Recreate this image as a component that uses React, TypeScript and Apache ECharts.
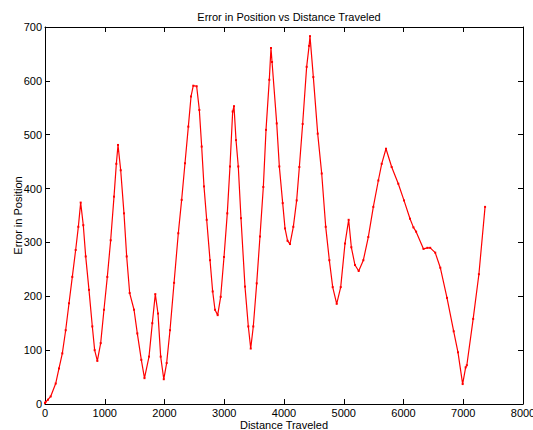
import React, { useEffect, useRef } from "react";
import * as echarts from "echarts";

const chartTitle = "Error in Position vs Distance Traveled";
const xAxisName = "Distance Traveled";
const yAxisName = "Error in Position";

const distance = [
  0, 11, 50, 95, 179, 234, 290, 346, 402, 457, 513, 558, 597, 641, 681, 736, 792, 831, 876,
  932, 987, 1043, 1099, 1155, 1194, 1222, 1267, 1322, 1367, 1417, 1490, 1545, 1612, 1665,
  1741, 1796, 1846, 1891, 1936, 1988, 2036, 2092, 2160, 2231, 2287, 2343, 2399, 2444, 2482,
  2538, 2583, 2622, 2661, 2706, 2762, 2806, 2845, 2890, 2940, 2996, 3051, 3096, 3141, 3163,
  3197, 3235, 3280, 3347, 3403, 3443, 3486, 3543, 3598, 3654, 3699, 3754, 3782, 3800, 3878,
  3922, 3978, 4017, 4060, 4100, 4156, 4212, 4257, 4312, 4379, 4420, 4435, 4491, 4564, 4631,
  4698, 4759, 4815, 4882, 4949, 5021, 5082, 5127, 5188, 5250, 5328, 5411, 5495, 5579, 5635,
  5707, 5802, 5913, 6008, 6109, 6166, 6211, 6335, 6400, 6447, 6531, 6616, 6728, 6840, 6912,
  6990, 7040, 7060, 7166, 7262, 7365,
];

const positionError = [
  2, 4, 8, 14, 38, 66, 94, 137, 187, 236, 286, 329, 374, 332, 274, 212, 144, 100, 80,
  113, 175, 236, 304, 385, 446, 481, 434, 354, 274, 206, 175, 131, 82, 48,
  88, 150, 204, 168, 88, 46, 76, 137, 225, 317, 379, 447, 515, 571, 591,
  590, 546, 478, 404, 342, 267, 209, 175, 165, 199, 273, 354, 441, 543, 553,
  490, 441, 345, 218, 144, 103, 144, 224, 311, 403, 509, 602, 661, 635, 521,
  441, 373, 326, 303, 297, 329, 378, 440, 520, 626, 665, 683, 607, 502, 428,
  329, 267, 217, 186, 217, 298, 342, 291, 258, 247, 267, 310, 366, 415, 446,
  474, 440, 409, 378, 344, 328, 320, 288, 290, 290, 281, 253, 197, 135, 96,
  37, 68, 72, 158, 241, 366,
];

const xTicks = [0, 1000, 2000, 3000, 4000, 5000, 6000, 7000, 8000];
const yTicks = [0, 100, 200, 300, 400, 500, 600, 700];

const FONT = "Liberation Sans, Arial, Helvetica, sans-serif";

export default function App() {
  const ref = useRef<HTMLDivElement>(null);

  useEffect(() => {
    if (!ref.current) return;
    const chart = echarts.init(ref.current, null, { renderer: "svg" });
    const points = distance.map((d, i) => [d, positionError[i]]);
    const axisLine = { show: true, onZero: false, lineStyle: { color: "#000", width: 1 } };
    const tick = { show: true, inside: true, length: 5, lineStyle: { color: "#000", width: 1 } };
    const xMin = xTicks[0];
    const xMax = xTicks[xTicks.length - 1];
    const xInt = xTicks[1] - xTicks[0];
    const yMin = yTicks[0];
    const yMax = yTicks[yTicks.length - 1];
    const yInt = yTicks[1] - yTicks[0];
    const plain = (v: number) => String(v);

    chart.setOption({
      animation: false,
      backgroundColor: "#fff",
      textStyle: { fontFamily: FONT },
      title: {
        text: chartTitle,
        left: 284,
        textAlign: "center",
        top: 6,
        textStyle: { fontSize: 11, fontWeight: "normal", color: "#000", fontFamily: FONT },
      },
      grid: {
        left: 45,
        right: 10,
        top: 27,
        bottom: 26,
        containLabel: false,
        outerBoundsMode: "none",
      },
      xAxis: [
        {
          type: "value",
          position: "bottom",
          min: xMin,
          max: xMax,
          interval: xInt,
          name: xAxisName,
          nameLocation: "middle",
          nameGap: 15,
          nameMoveOverlap: false,
          nameTextStyle: { fontSize: 11, lineHeight: 11, color: "#000", fontFamily: FONT },
          axisLine,
          axisTick: tick,
          splitLine: { show: false },
          axisLabel: {
            fontSize: 11,
            lineHeight: 11,
            color: "#000",
            margin: 3,
            fontFamily: FONT,
            formatter: plain,
            hideOverlap: false,
          },
        },
        {
          type: "value",
          position: "top",
          min: xMin,
          max: xMax,
          interval: xInt,
          axisLine,
          axisTick: tick,
          splitLine: { show: false },
          axisLabel: { show: false },
        },
      ],
      yAxis: [
        {
          type: "value",
          position: "left",
          min: yMin,
          max: yMax,
          interval: yInt,
          name: yAxisName,
          nameLocation: "middle",
          nameGap: 22,
          nameMoveOverlap: false,
          nameRotate: 90,
          nameTextStyle: { fontSize: 11, color: "#000", fontFamily: FONT },
          axisLine,
          axisTick: tick,
          splitLine: { show: false },
          axisLabel: { fontSize: 11, color: "#000", margin: 3, fontFamily: FONT, formatter: plain },
        },
        {
          type: "value",
          position: "right",
          min: yMin,
          max: yMax,
          interval: yInt,
          axisLine,
          axisTick: tick,
          splitLine: { show: false },
          axisLabel: { show: false },
        },
      ],
      series: [
        {
          type: "line",
          xAxisIndex: 0,
          yAxisIndex: 0,
          data: points,
          showSymbol: true,
          symbol: "rect",
          symbolSize: 2,
          itemStyle: { color: "#ff0000" },
          lineStyle: { color: "#ff0000", width: 1.2 },
        },
      ],
    });
    return () => chart.dispose();
  }, []);

  return (
    <div style={{ position: "absolute", left: 0, top: 0, width: 533, height: 430, background: "#fff" }}>
      <div ref={ref} style={{ width: 533, height: 430 }} />
    </div>
  );
}
